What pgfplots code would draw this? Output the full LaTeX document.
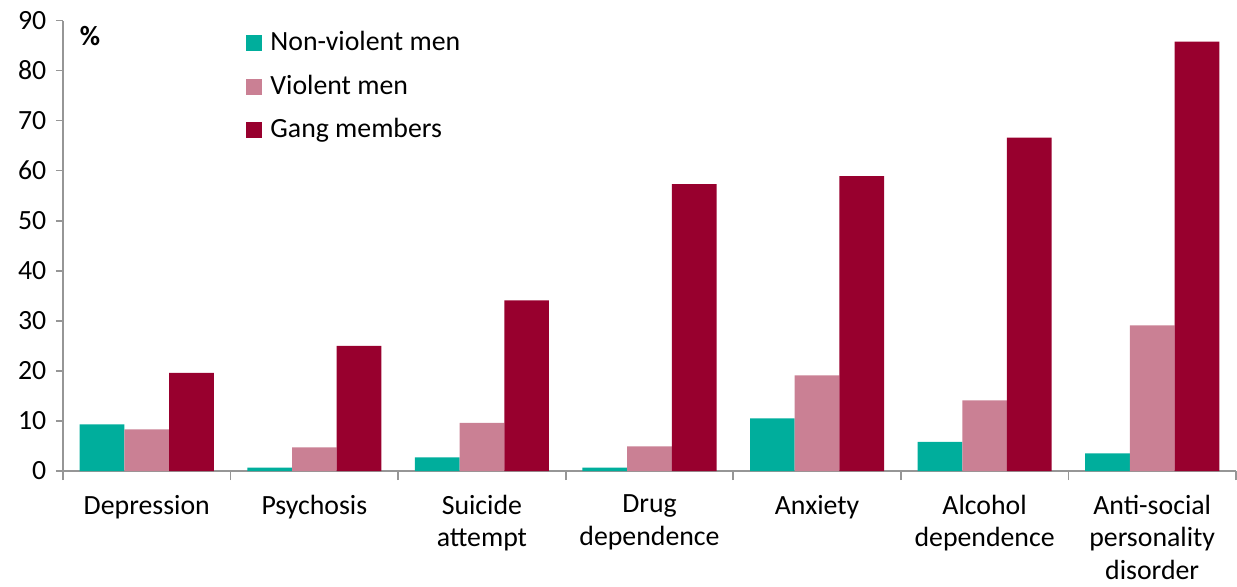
\documentclass[border=0pt]{standalone}
\usepackage{fontspec}
\setmainfont{Carlito}
\usepackage{pgfplots}
\pgfplotsset{compat=1.18}

\definecolor{nonviolent}{HTML}{00AE9C}
\definecolor{violent}{HTML}{CA8094}
\definecolor{gang}{HTML}{98002E}
\definecolor{axisgray}{HTML}{969696}

\pgfplotstableread{
x nonviolent violent gang
0 9.3 8.3 19.6
1 0.7 4.7 25.0
2 2.7 9.6 34.1
3 0.7 4.9 57.3
4 10.5 19.1 58.9
5 5.8 14.1 66.6
6 3.5 29.1 85.8
}\datatable

\begin{document}
\fontsize{13.9}{17}\selectfont
\begin{tikzpicture}
\begin{axis}[
  name=ax,
  scale only axis,
  width=586.5pt, height=225.25pt,
  ybar=0pt, bar width=22.35pt,
  xmin=-0.5, xmax=6.5,
  ymin=0, ymax=90,
  ytick={0,10,...,90},
  xtick={0,...,6},
  xticklabels={Depression, Psychosis, Suicide\\attempt, Drug\\dependence, Anxiety, Alcohol\\dependence, Anti-social\\personality\\disorder},
  minor xtick={-0.5,0.5,...,6.5},
  every major x tick/.append style={draw=none},
  tick align=outside,
  major tick length=3.5pt,
  minor tick length=4.5pt,
  tick style={axisgray, line width=0.8pt},
  axis lines*=left,
  axis line style={axisgray, line width=0.8pt},
  xticklabel style={align=center, inner ysep=0pt, yshift=-8.3pt, font=\fontsize{13.9}{16.3}\selectfont},
  yticklabel style={font=\fontsize{13.9}{17}\selectfont},
  /pgf/number format/assume math mode=true,
  legend style={draw=none, fill=none, at={(0.156,0.985)}, anchor=north west,
    font=\fontsize{13.9}{17}\selectfont, row sep=6pt, inner sep=0pt,
    nodes={inner xsep=4pt}},
  legend cell align=left,
  legend image code/.code={\fill[#1] (0pt,-4pt) rectangle (8pt,4pt);},
]
\addplot[fill=nonviolent, draw=none] table[x=x, y=nonviolent] {\datatable};
\addlegendentry{Non-violent men}
\addplot[fill=violent, draw=none] table[x=x, y=violent] {\datatable};
\addlegendentry{Violent men}
\addplot[fill=gang, draw=none] table[x=x, y=gang] {\datatable};
\addlegendentry{Gang members}
\node[font=\bfseries\fontsize{13.9}{17}\selectfont] at (rel axis cs:0.023,0.966) {\%};
\end{axis}
\pgfresetboundingbox
\path ([shift={(-31.5pt,-57.5pt)}]ax.south west) rectangle ([shift={(587pt,235.5pt)}]ax.south west);
\end{tikzpicture}
\end{document}
